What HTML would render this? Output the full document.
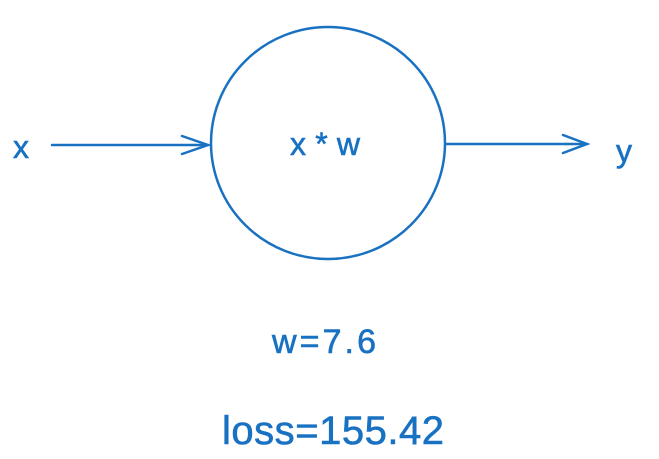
<!DOCTYPE html>
<html><head><meta charset="utf-8"><style>
html,body{margin:0;padding:0;background:#fff;}
svg{display:block}
text{font-family:"Liberation Sans",sans-serif;fill:#1971c2;stroke:#1971c2;stroke-width:0.6}
</style></head><body>
<svg width="659" height="459" viewBox="0 0 659 459">
<g stroke="#1971c2" stroke-width="2.5" fill="none" stroke-linecap="round">
<ellipse cx="328" cy="143" rx="117" ry="116"/>
<g>
<path d="M52 145 L208 145"/><path d="M182 136 L208 145 L182 154"/>
</g>
<g>
<path d="M447 144 L587 144"/><path d="M563 135 L587 144 L563 153"/>
</g>
</g>
<text x="21" y="158" font-size="32" text-anchor="middle">x</text>
<text x="624" y="162" font-size="32" text-anchor="middle">y</text>
<text x="325" y="155" font-size="32" text-anchor="middle" textLength="70">x*w</text>
<text x="324" y="353" font-size="34" text-anchor="middle" textLength="104">w=7.6</text>
<text x="333" y="444" font-size="40" text-anchor="middle" textLength="222">loss=155.42</text>
</svg>
</body></html>
